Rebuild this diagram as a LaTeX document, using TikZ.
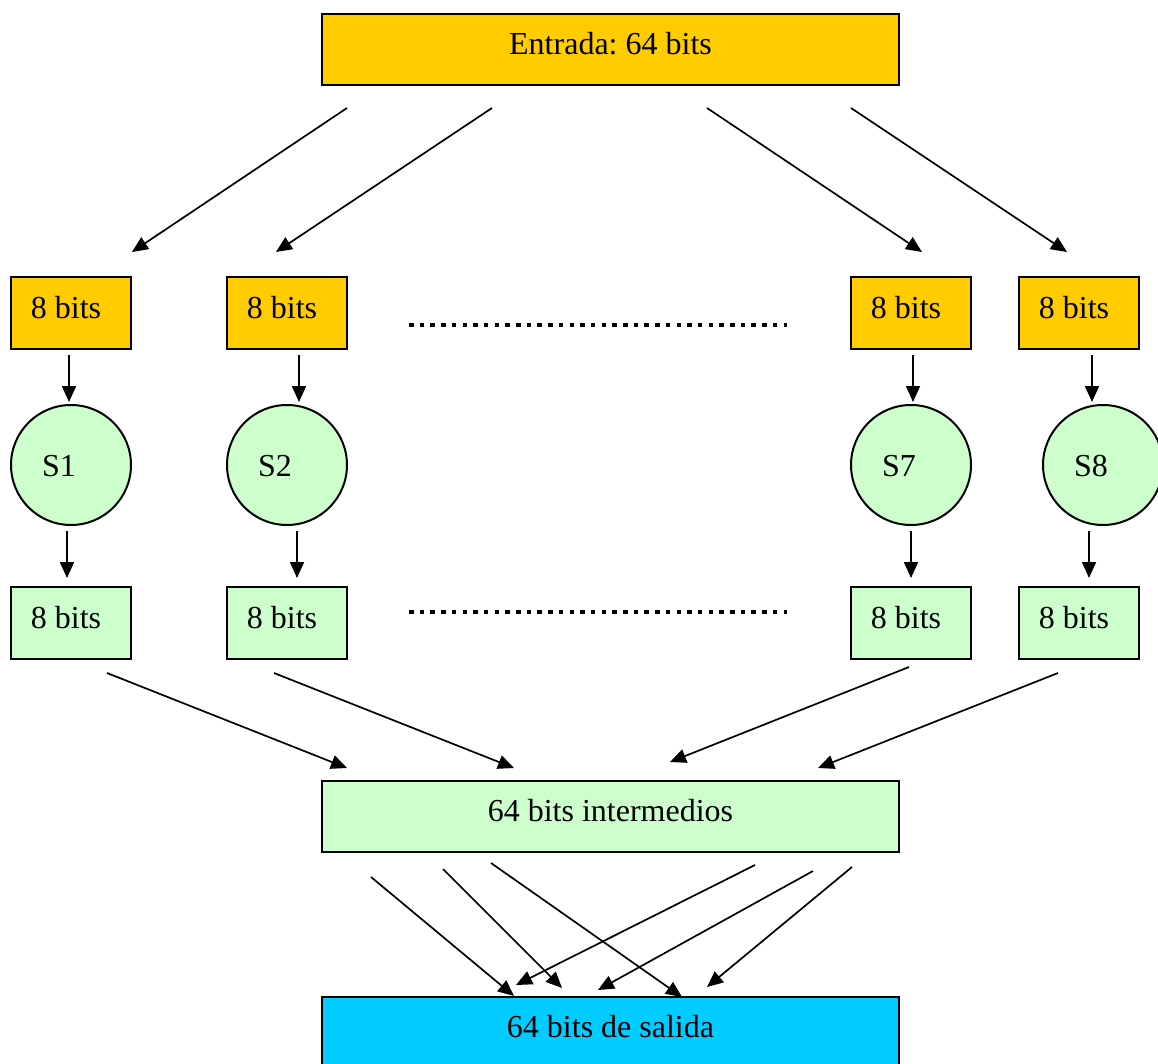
\documentclass[tikz,border=0pt]{standalone}
\usepackage{fontspec}
\setmainfont{Liberation Serif}
\usetikzlibrary{arrows.meta}
\definecolor{gold}{HTML}{FFCC00}
\definecolor{mint}{HTML}{CCFFCC}
\definecolor{sky}{HTML}{00CCFF}
\frenchspacing
\begin{document}
\begin{tikzpicture}[x=1pt,y=-1pt,
  lbl/.style={font=\fontsize{32}{38}\selectfont},
  box/.style={lbl, draw, line width=2pt, rectangle, outer sep=0pt, inner sep=0pt,
              text height=22pt, text depth=12pt},
  wide/.style={box, minimum width=577pt, minimum height=71pt},
  small/.style={box, minimum width=120pt, minimum height=72pt},
  sbox/.style={lbl, draw, circle, line width=2pt, fill=mint, minimum size=120pt,
               inner sep=0pt, outer sep=0pt, text height=22pt, text depth=0pt},
  arr/.style={line width=1.7pt, -{Triangle[length=16pt,width=14pt]}},
  dots/.style={line width=4.5pt, dash pattern=on 4.5pt off 6.2pt}
]
\useasboundingbox (0,0) rectangle (1158,1064);

% input block
\node[wide, fill=gold] (in) at (610.5,49.5) {Entrada: 64 bits};

% 8-bit input slices
\node[small, fill=gold] (o1) at (71,313) {8 bits\hspace*{10pt}};
\node[small, fill=gold] (o2) at (287,313) {8 bits\hspace*{10pt}};
\node[small, fill=gold] (o7) at (911,313) {8 bits\hspace*{10pt}};
\node[small, fill=gold] (o8) at (1079,313) {8 bits\hspace*{10pt}};

% S-boxes
\node[sbox] (s1) at (71,465) {S1\hspace*{24pt}};
\node[sbox] (s2) at (287,465) {S2\hspace*{24pt}};
\node[sbox] (s7) at (911,465) {S7\hspace*{24pt}};
\node[sbox] (s8) at (1103,465) {S8\hspace*{24pt}};

% 8-bit output slices
\node[small, fill=mint] (g1) at (71,623) {8 bits\hspace*{10pt}};
\node[small, fill=mint] (g2) at (287,623) {8 bits\hspace*{10pt}};
\node[small, fill=mint] (g7) at (911,623) {8 bits\hspace*{10pt}};
\node[small, fill=mint] (g8) at (1079,623) {8 bits\hspace*{10pt}};

% intermediate and output blocks
\node[wide, fill=mint] (mid) at (610.5,816.5) {64 bits intermedios};
\node[wide, fill=sky] (out) at (610.5,1032.5) {64 bits de salida};

% ellipsis between the slices
\draw[dots, shorten <=62pt, shorten >=64pt] ([yshift=-12pt]o2.east) -- ([yshift=-12pt]o7.west);
\draw[dots, shorten <=62pt, shorten >=64pt] ([yshift=11pt]g2.east) -- ([yshift=11pt]g7.west);

% splitting the input
\coordinate (a1) at (347,108); \coordinate (b1) at (132,252);
\coordinate (a2) at (492,108); \coordinate (b2) at (276,252);
\coordinate (a3) at (707,108); \coordinate (b3) at (922,252);
\coordinate (a4) at (851,108); \coordinate (b4) at (1067,252);
\draw[arr] (a1) -- (b1);
\draw[arr] (a2) -- (b2);
\draw[arr] (a3) -- (b3);
\draw[arr] (a4) -- (b4);

% into and out of the S-boxes
\draw[arr] ([xshift=-2pt,yshift=-6pt]o1.south) -- ([xshift=-2pt,yshift=3pt]s1.north);
\draw[arr] ([xshift=12pt,yshift=-6pt]o2.south) -- ([xshift=12pt,yshift=3pt]s2.north);
\draw[arr] ([xshift=2pt,yshift=-6pt]o7.south) -- ([xshift=2pt,yshift=3pt]s7.north);
\draw[arr] ([xshift=13pt,yshift=-6pt]o8.south) -- ([xshift=-11pt,yshift=3pt]s8.north);

\draw[arr] ([xshift=-4pt,yshift=-6pt]s1.south) -- ([xshift=-4pt,yshift=9pt]g1.north);
\draw[arr] ([xshift=10pt,yshift=-6pt]s2.south) -- ([xshift=10pt,yshift=9pt]g2.north);
\draw[arr] ([yshift=-6pt]s7.south) -- ([yshift=9pt]g7.north);
\draw[arr] ([xshift=-14pt,yshift=-6pt]s8.south) -- ([xshift=10pt,yshift=9pt]g8.north);

% merging the slices
\coordinate (c1) at (107,673); \coordinate (e1) at (347,768);
\coordinate (c2) at (274,673); \coordinate (e2) at (514,768);
\coordinate (c3) at (909,667); \coordinate (e3) at (670,762);
\coordinate (c4) at (1058,673); \coordinate (e4) at (818,768);
\draw[arr] (c1) -- (e1);
\draw[arr] (c2) -- (e2);
\draw[arr] (c3) -- (e3);
\draw[arr] (c4) -- (e4);

% final permutation
\coordinate (p1) at (371,877); \coordinate (q1) at (514,996);
\coordinate (p2) at (443,869); \coordinate (q2) at (562,988);
\coordinate (p3) at (491,863); \coordinate (q3) at (682,997);
\coordinate (p4) at (755,865); \coordinate (q4) at (516,985);
\coordinate (p5) at (813,871); \coordinate (q5) at (598,990);
\coordinate (p6) at (852,867); \coordinate (q6) at (707,987);
\draw[arr] (p1) -- (q1);
\draw[arr] (p2) -- (q2);
\draw[arr] (p3) -- (q3);
\draw[arr] (p4) -- (q4);
\draw[arr] (p5) -- (q5);
\draw[arr] (p6) -- (q6);
\end{tikzpicture}
\end{document}
